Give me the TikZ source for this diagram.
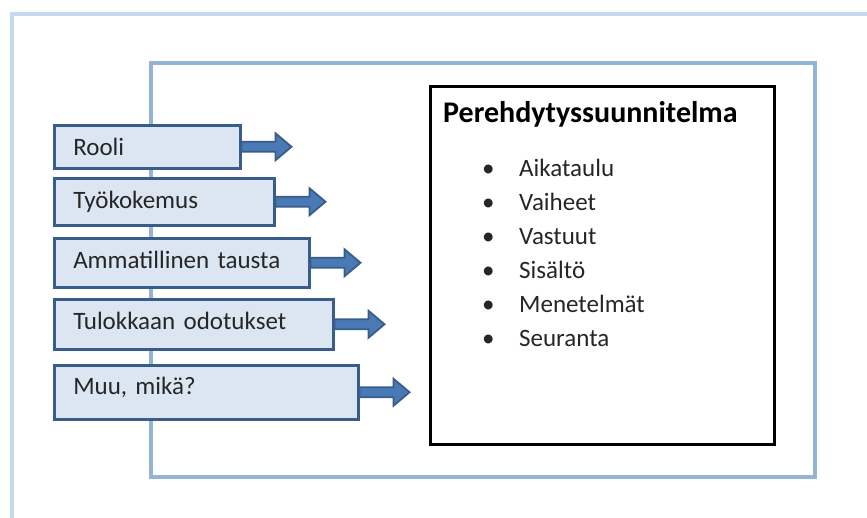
\documentclass[tikz,border=0pt]{standalone}
\usepackage{fontspec}
\setmainfont{Carlito}
\usetikzlibrary{calc}
\definecolor{outerblue}{HTML}{C6D9F1}
\definecolor{midblue}{HTML}{95B3D7}
\definecolor{boxfill}{HTML}{DCE6F2}
\definecolor{boxline}{HTML}{385D8A}
\definecolor{arrfill}{HTML}{4A7AB5}
\tikzset{
  outerframe/.style={draw=outerblue, line width=4pt},
  midframe/.style={draw=midblue, line width=4pt},
  lbox/.style={draw=boxline, fill=boxfill, line width=2.5pt, anchor=north west,
    inner xsep=19pt, inner ysep=0pt, align=left,
    font=\fontsize{25}{30}\selectfont, text=black!85},
  planbox/.style={draw=black, line width=2.5pt, anchor=north west, inner sep=0pt,
    minimum width=344pt, minimum height=358pt},
  titletext/.style={anchor=base west, inner sep=0pt, font=\bfseries\fontsize{30}{35}\selectfont},
  itemtext/.style={anchor=base west, inner sep=0pt, font=\fontsize{25}{30}\selectfont, text=black!85},
  blockarrow/.style={draw=boxline, fill=arrfill, line width=1.8pt, line join=miter}
}
\newcommand{\blockarr}[1]{%
  \draw[blockarrow] ($(#1.east)+(0,-5)$) -- ++(34,0) -- ++(0,-8.5) -- ++(16,13.5)
    -- ++(-16,13.5) -- ++(0,-8.5) -- ++(-34,0) -- cycle;}
\newcommand{\bul}[1]{\makebox[37pt][l]{•}#1}
\begin{document}
\begin{tikzpicture}[x=1pt,y=-1pt]
\useasboundingbox (0,0) rectangle (867,517);
\draw[outerframe] (11.5,520) -- (11.5,14) -- (870,14);
\draw[midframe] (151,63) rectangle (815,477);
\node[lbox, text width=148pt, text height=30pt, text depth=13pt] (b1) at (53,124) {Rooli};
\node[lbox, text width=182pt, text height=30pt, text depth=17pt] (b2) at (53,177) {Työkokemus};
\node[lbox, text width=217pt, text height=30pt, text depth=19pt] (b3) at (53,237) {Ammatillinen tausta};
\node[lbox, text width=241pt, text height=30pt, text depth=20pt] (b4) at (53,298) {Tulokkaan odotukset};
\node[lbox, text width=266pt, text height=29pt, text depth=25pt] (b5) at (53,364) {Muu, mikä?};
\blockarr{b1}
\blockarr{b2}
\blockarr{b3}
\blockarr{b4}
\blockarr{b5}
\node[planbox] (plan) at (429,85) {};
\node[titletext] (title) at (443,122) {Perehdytyssuunnitelma};
\node[itemtext] (i1) at (482,176) {\bul{Aikataulu}};
\node[itemtext] (i2) at (482,210) {\bul{Vaiheet}};
\node[itemtext] (i3) at (482,244) {\bul{Vastuut}};
\node[itemtext] (i4) at (482,278) {\bul{Sisältö}};
\node[itemtext] (i5) at (482,312) {\bul{Menetelmät}};
\node[itemtext] (i6) at (482,346) {\bul{Seuranta}};
\end{tikzpicture}
\end{document}
